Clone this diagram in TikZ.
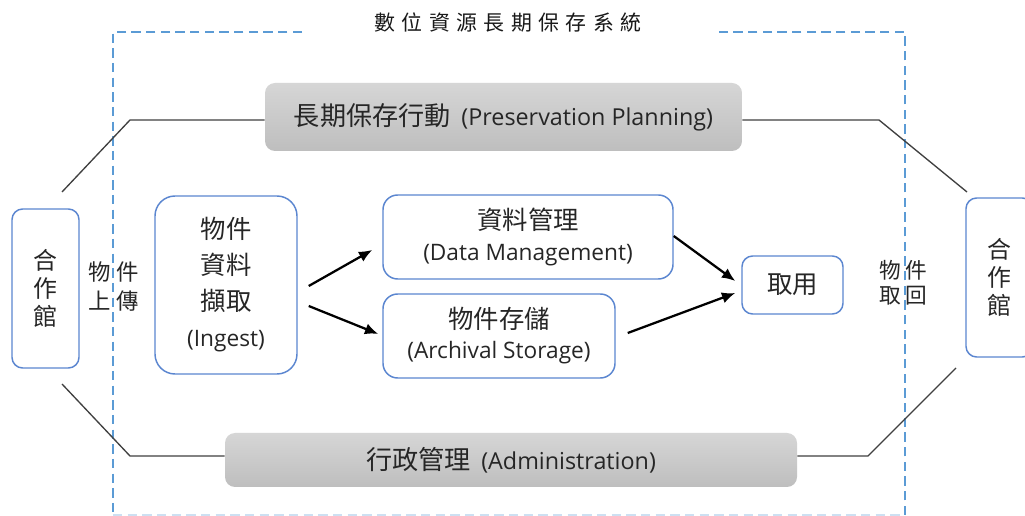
\documentclass[tikz,border=0pt]{standalone}
\usepackage{fontspec}
\setmainfont{Open Sans}
\newfontfamily\cjk{Noto Sans CJK TC}[Scale=1.12]
\usetikzlibrary{arrows.meta}
\definecolor{bluebd}{HTML}{5B86D0}
\definecolor{framec}{HTML}{5B9BD5}
\definecolor{txt}{HTML}{262626}
\definecolor{connc}{HTML}{404040}
\definecolor{grayA}{HTML}{D6D6D6}
\definecolor{grayB}{HTML}{BEBEBE}
\begin{document}
\begin{tikzpicture}[x=0.75pt,y=-0.75pt,
  bbox/.style={draw=bluebd,line width=1.1pt,fill=white,text=txt,align=center,inner sep=0pt},
  gbox/.style={rounded corners=7.5pt,top color=grayA,bottom color=grayB,draw=none,text=txt,inner sep=0pt},
  connline/.style={draw=connc,line width=1pt},
  arr/.style={line width=1.7pt,black,-{Latex[length=10pt,width=8.5pt]}},
  lbl/.style={text=txt,inner sep=0pt,align=center},
  framestyle/.style={draw=framec,line width=1.8pt,dash pattern=on 7pt off 4pt}]
\useasboundingbox (0,0) rectangle (1025,516);
\fill[white] (0,0) rectangle (1025,516);

% dashed system frame
\coordinate (f1) at (302,32);
\coordinate (f2) at (113,32);
\coordinate (f3) at (113,515);
\coordinate (f4) at (905,515);
\coordinate (f5) at (905,32);
\coordinate (f6) at (715,32);
\draw[framestyle] (f1) -- (f2) -- (f3);
\draw[framestyle] (f4) -- (f5) -- (f6);
\draw[framestyle,opacity=0.3] (f3) -- (f4);

% title
\node[lbl,text=black!90,font=\cjk\fontsize{14}{16}\selectfont] (title) at (508,23)
  {數\hspace{4.8pt}位\hspace{4.8pt}資\hspace{4.8pt}源\hspace{4.8pt}長\hspace{4.8pt}期\hspace{4.8pt}保\hspace{4.8pt}存\hspace{4.8pt}系\hspace{4.8pt}統};

% gray boxes
\node[gbox,minimum width=357.75pt,minimum height=51pt,font=\fontsize{17.5}{21}\selectfont] (PP) at (503.5,117)
  {{\cjk 長期保存行動}\hspace{8pt}(Preservation Planning)};
\node[gbox,minimum width=429pt,minimum height=40.5pt,font=\fontsize{17.5}{21}\selectfont] (AD) at (511,460)
  {{\cjk 行政管理}\hspace{8pt}(Administration)};

% connector lines to archives
\coordinate (pl0) at (62,192);
\coordinate (pl1) at (130,120);
\coordinate (pr1) at (879,120);
\coordinate (pr0) at (967,192);
\coordinate (al0) at (62,384);
\coordinate (al1) at (130,456);
\coordinate (ar1) at (868,456);
\coordinate (ar0) at (956,368);
\draw[connline] (pl0) -- (pl1) -- (pl1 -| PP.west);
\draw[connline] (pr1 -| PP.east) -- (pr1) -- (pr0);
\draw[connline] (al0) -- (al1) -- (al1 -| AD.west);
\draw[connline] (ar1 -| AD.east) -- (ar1) -- (ar0);

% blue boxes
\node[bbox,rounded corners=8pt,minimum width=50.25pt,minimum height=119.25pt,font=\cjk\fontsize{16}{21}\selectfont] (L) at (45.5,288.5)
  {合\\作\\館};
\node[bbox,rounded corners=8pt,minimum width=50.25pt,minimum height=119.25pt,font=\cjk\fontsize{16}{21}\selectfont] (R) at (999.5,277.5)
  {合\\作\\館};
\node[bbox,rounded corners=15pt,minimum width=106.5pt,minimum height=133.5pt,font=\fontsize{17}{27}\selectfont] (IN) at (226,285)
  {{\cjk 物件}\\{\cjk 資料}\\{\cjk 擷取}\\(Ingest)};
\node[bbox,rounded corners=11pt,minimum width=217.5pt,minimum height=63pt,font=\fontsize{17}{23.25}\selectfont] (DM) at (528,237)
  {{\cjk 資料管理}\\(Data Management)};
\node[bbox,rounded corners=11pt,minimum width=174pt,minimum height=63pt,font=\fontsize{17}{22.5}\selectfont] (AS) at (499,336)
  {{\cjk 物件存儲}\\(Archival Storage)};
\node[bbox,rounded corners=8pt,minimum width=75.75pt,minimum height=43.5pt,font=\cjk\fontsize{17}{21}\selectfont] (US) at (792.5,285)
  {取用};

% side labels
\node[lbl,font=\cjk\fontsize{15}{21.75}\selectfont] (UP) at (114,287) {物\hspace{4pt}件\\上\hspace{4pt}傳};
\node[lbl,font=\cjk\fontsize{14.5}{18.75}\selectfont] (RT) at (903.5,283) {物\hspace{3.5pt}件\\取\hspace{3.5pt}回};

% arrows
\draw[arr] ([shift={(11,1)}]IN.east) -- ([shift={(-10,13)}]DM.west);
\draw[arr] ([shift={(11,21)}]IN.east) -- ([shift={(-4,-2)}]AS.west);
\draw[arr] ([shift={(0,-1)}]DM.east) -- ([shift={(-6,-4)}]US.west);
\draw[arr] ([shift={(12,-3)}]AS.east) -- ([shift={(-6,8)}]US.west);
\end{tikzpicture}
\end{document}
